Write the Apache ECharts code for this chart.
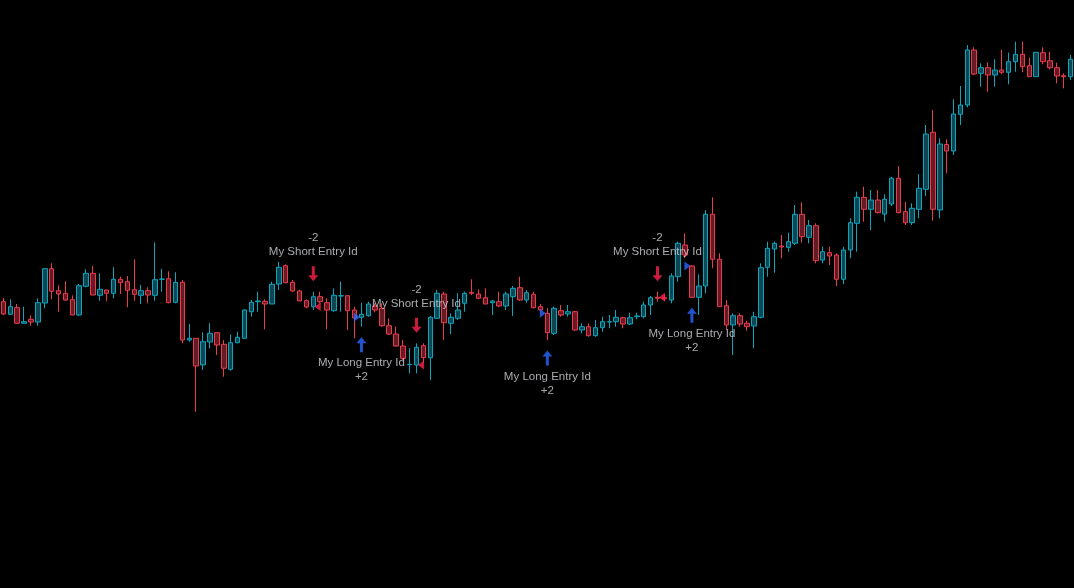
<!DOCTYPE html>
<html><head><meta charset="utf-8">
<script src="https://cdn.jsdelivr.net/npm/echarts@6/dist/echarts.min.js"></script>
<style>html,body{margin:0;padding:0;background:#000;}#c{width:1074px;height:588px;}</style>
</head><body><div id="c"></div>
<script>
// bar values (O, C, L, H), arbitrary price units
const opens = [298.3,285.7,292.3,276.7,280.7,278,297,331.3,309.3,306.7,300.3,285,313.7,326.7,304.7,310,306.7,320.7,318.3,310.3,304.7,309.3,304.7,320.7,321.3,297.7,317.7,260,261.7,235,258,267.3,255.7,230.7,257.3,261.7,288.3,298.3,298.7,296,316,334.3,317.7,309,299.3,293.3,303.3,297.3,289.3,304,304.3,290,282.7,284.3,294,291.7,274.3,266,254,235.3,235,254.3,242.3,281.7,306,276.7,281.7,296.7,307.7,306,302.3,297.3,298.3,294,303.3,312.3,300,305.7,293.3,286.7,266.7,289.3,286,288.3,270,273.3,264.3,272.3,278,278.3,282.3,276,283.3,283.3,295,302.7,302.3,300,323.3,355,334,302.7,314,385.7,340.7,294.3,275,284.3,276.7,274,282.7,332.7,351,354,352.7,356.7,385.7,362.7,374.3,340,347.3,345,320.7,350,376.7,402.7,390.7,400,386,396,421.7,388.3,377.3,390.7,410.7,467.7,390,455.5,449,485.7,495,550,526.7,532.3,525,530,527.7,538.3,545.7,534.3,523.3,547.3,539.3,532.3,524.3,523.3];
const closes = [286,293.3,276.7,278.3,278,297.3,331.3,308.7,306,300,285,314.3,326.7,305,310.7,306.7,320.7,317.3,309.7,305.7,309.3,305,320.3,321,297.3,317.7,260,261.7,234,258.3,266.7,255,231.7,257.3,262.7,290,297.7,299,296,315.7,332.7,317.3,309,299,293,303.3,298.3,290,304.7,304.3,289.3,282,285.7,296,290,274.3,266,254,241.7,235.7,252.7,242.3,282.7,306.7,277.3,282.7,290,306.7,306.7,301.7,296,299,294,306,311.7,300,307.3,292.3,290,267.3,291.7,285,288.3,270,273.3,264.3,272.3,278.3,278.3,282.7,276,282.3,284,295,302.3,301.7,301.3,324,356.7,345,302.7,314,385.7,340.7,293.3,275,284.3,276,273.3,283.3,332.3,351.7,356.7,353,358.3,385.7,363.3,374.3,339.3,348.3,344,320.7,350,377.3,402.7,390.7,400,387.3,400.7,421.7,387.3,377.3,391.7,411.7,466,390.7,456,449,486,495,550,526,532.3,525,530,527.7,538.3,545.7,533.3,523.3,547.7,538.3,532.3,524,523.3,540.7];
const lows = [285,285,276.7,276.7,274.3,274.3,291.7,300.7,288.3,299.3,285,284.3,312.7,305,299.3,298.7,301.7,306,292.7,299.3,296,296.7,299.3,308.3,296.7,296.7,256.7,258.3,188.3,230,251.7,245,223.3,229.3,256.7,261.7,283.3,288.3,270.7,296,310,316.7,308.3,299,291.7,290,296.7,270.7,288.3,288.3,270,261.7,273.3,283.3,287.7,273.3,265,253.3,240,226.7,226.7,237,220,281.7,260,266,280,288.3,305,300.7,296,285,292.7,290,284,299.3,297.3,291.7,288.3,260,265,283.3,283.3,269.3,266.7,263.3,263.3,268.3,271.7,273.3,271.7,275,280.7,281.7,285,298.3,299,296.7,318.3,342,302.7,285,306.7,331.7,293.3,270,245,273.3,269.3,251.7,281.7,323.3,327.3,341.7,348.3,355,357.3,356.7,336.7,336.7,335,314,316,341.7,348.3,378.3,370,386.7,378.3,394,386.7,375,375,381.7,404,379.3,381.7,426.7,445,475,492.7,525,513.3,508.3,513.3,525.7,515.7,528.3,527.7,523.3,523.3,535.7,530.7,516.7,511.7,520];
const highs = [302,300.7,296,293.3,284.7,301.7,331.3,336.7,314.7,318.7,304.7,316,330.7,334,326.7,310,332.7,323.3,324,340.7,315,312.7,357.7,331.3,328.7,327.7,320,276,261.7,267.7,276.7,267.3,260,265.7,268.3,290.7,300,308.3,300.7,318.3,338.3,335.7,320,310,300.7,308.3,308.3,301.7,311.7,318.3,304.3,293.3,297.3,298.3,296.7,296.7,281.7,273.3,260,251.7,256.7,256.7,284,310,308.3,286.7,306.7,308.3,320.7,310.7,311.7,300,308.3,308.3,314,323.3,310,308.3,296,291.7,293.3,295,295,289.3,276.7,276.7,280,283.3,285,290,283.3,287.3,287.3,298.3,304,308.3,305,326.7,358.3,366.7,335,325.7,390,402.7,346.7,300,286.7,286.7,279.3,288.3,336.7,358.3,358.3,365,367.3,395,397.7,380,376.7,353.3,353.3,346.7,353.3,381.7,408.3,413.3,410,410,405.7,423.3,434,398.3,396.7,426,475,490,461.7,460.7,500.7,514,555,552.7,536.7,537.7,540.7,550,547.3,558.3,558.3,542.3,547.7,552.7,548.3,537.3,526.7,545];

// strategy entries (bar index) and their texts
const shortEntries = [45, 60, 95];
const longEntries = [52, 79, 100];
const shortQty = '-2';
const longQty = '+2';
const shortName = 'My Short Entry Id';
const longName = 'My Long Entry Id';

const categories = opens.map((_, i) => String(i + 1));

const UP_BORDER = '#0ba6be', UP_FILL = '#0b4652';
const DN_BORDER = '#e93c4f', DN_FILL = '#661b24';
const SIG_RED = '#ff1f4e', SIG_BLUE = '#2b68ff';
const TXT = '#d3d5da';
const FONT = 'Liberation Sans, Arial, sans-serif';

const arrowDown = 'path://M3.5,0 L6.5,0 L6.5,9 L10,9 L5,15 L0,9 L3.5,9 Z';
const arrowUp = 'path://M5,0 L10,6 L6.5,6 L6.5,15 L3.5,15 L3.5,6 L0,6 Z';

const candleData = opens.map((o, i) => [o, closes[i], lows[i], highs[i]]);

const chart = echarts.init(document.getElementById('c'), null, {renderer: 'canvas'});
chart.setOption({
  backgroundColor: '#000000',
  animation: false,
  grid: {left: -2.76, right: -3.74, top: 0, bottom: 0},
  xAxis: {type: 'category', data: categories, show: false, boundaryGap: true},
  yAxis: {type: 'value', min: 12, max: 600, show: false, splitLine: {show: false}},
  series: [
    {
      type: 'candlestick', data: candleData, barWidth: 5, barMaxWidth: 6,
      itemStyle: {color: UP_FILL, color0: DN_FILL, borderColor: UP_BORDER, borderColor0: DN_BORDER, borderWidth: 1}
    },
    {
      type: 'scatter', z: 5, data: shortEntries.map(i => [i, highs[i]]),
      symbol: arrowDown, symbolSize: [10, 15], symbolOffset: [0, -18],
      itemStyle: {color: SIG_RED},
      label: {show: true, position: 'top', distance: 7, formatter: shortQty + '\n' + shortName,
        color: TXT, fontSize: 11.5, fontFamily: FONT, lineHeight: 14, align: 'center'}
    },
    {
      type: 'scatter', z: 5, data: longEntries.map(i => [i, lows[i]]),
      symbol: arrowUp, symbolSize: [10, 15], symbolOffset: [0, 18],
      itemStyle: {color: SIG_BLUE},
      label: {show: true, position: 'bottom', distance: 4, formatter: longName + '\n' + longQty,
        color: TXT, fontSize: 11.5, fontFamily: FONT, lineHeight: 14, align: 'center'}
    },
    {
      type: 'scatter', z: 6, data: shortEntries.map(i => [i, opens[i]]),
      symbol: 'triangle', symbolRotate: 90, symbolSize: [9, 6], symbolOffset: [4.5, 0],
      itemStyle: {color: SIG_RED}
    },
    {
      type: 'scatter', z: 6, data: longEntries.map(i => [i, opens[i]]),
      symbol: 'triangle', symbolRotate: -90, symbolSize: [9, 6], symbolOffset: [-4.5, 0],
      itemStyle: {color: SIG_BLUE}
    }
  ]
});
</script></body></html>
